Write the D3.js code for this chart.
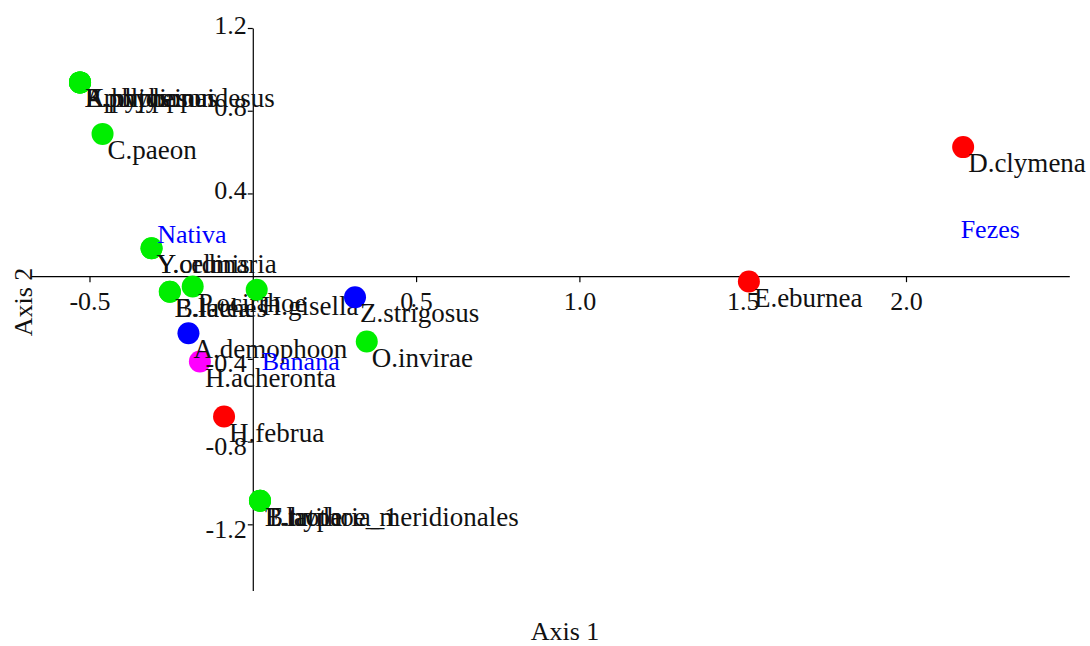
<!DOCTYPE html>
<html>
<head>
<meta charset="utf-8">
<script src="https://cdn.jsdelivr.net/npm/d3@7"></script>
<style>
  html, body { margin: 0; padding: 0; background: #fff; }
  svg { display: block; }
</style>
</head>
<body>
<svg id="chart" width="1090" height="646"></svg>
<script>
// Correspondence analysis: butterfly species and bait types (first two axes)
const species = [
  "P.poltys", "A.phidippus", "K.hyppason", "E.phyheinaidesus",
  "C.paeon",
  "Y.celmis", "Y.ordinaria",
  "E.lutea", "B.laches",
  "P.ocirrhoe",
  "H.gisella",
  "Z.strigosus",
  "H.acheronta",
  "A.demophoon",
  "O.invirae",
  "H.februa",
  "T.laothoe_meridionales", "B.hyperia_1", "E.tatila",
  "E.eburnea",
  "D.clymena"
];
const speciesX = [
  -0.529, -0.529, -0.529, -0.529,
  -0.460,
  -0.310, -0.310,
  -0.254, -0.254,
  -0.184,
  0.012,
  0.313,
  -0.162,
  -0.197,
  0.349,
  -0.088,
  0.022, 0.022, 0.022,
  1.519,
  2.175
];
const speciesY = [
  0.937, 0.937, 0.937, 0.937,
  0.688,
  0.135, 0.135,
  -0.075, -0.075,
  -0.050,
  -0.066,
  -0.102,
  -0.413,
  -0.276,
  -0.316,
  -0.679,
  -1.086, -1.086, -1.086,
  -0.026,
  0.624
];
const speciesGroup = [
  "g", "g", "g", "g",
  "g",
  "g", "g",
  "g", "g",
  "g",
  "g",
  "b",
  "m",
  "b",
  "g",
  "r",
  "g", "g", "g",
  "r",
  "r"
];

const baits = ["Nativa", "Banana", "Fezes"];
const baitX = [-0.308, 0.012, 2.152];
const baitY = [0.282, -0.332, 0.306];

const xTicks = [-0.5, 0.5, 1.0, 1.5, 2.0];
const yTicks = [1.2, 0.8, 0.4, -0.4, -0.8, -1.2];

const groupColor = { g: "#00ee00", b: "#0000ff", r: "#ff0000", m: "#ff00ff" };

const svg = d3.select("#chart");
svg.append("rect").attr("width", 1090).attr("height", 646).attr("fill", "#fff");

const x = d3.scaleLinear().domain([-0.68, 2.5]).range([30.7, 1069.3]);
const y = d3.scaleLinear().domain([-1.52, 1.2]).range([590.5, 28]);

const FONT = "'Liberation Serif', 'Times New Roman', serif";
const fmt = d => d.toFixed(1);

const xAxis = d3.axisBottom(x).tickValues(xTicks).tickFormat(fmt)
  .tickSize(6).tickSizeOuter(0).tickPadding(9);
const yAxis = d3.axisLeft(y).tickValues(yTicks).tickFormat(fmt)
  .tickSize(5).tickSizeOuter(0).tickPadding(1);

// axis lines and tick marks (below the points)
const gx = svg.append("g").attr("transform", `translate(0,${y(0)})`).call(xAxis);
const gy = svg.append("g").attr("transform", `translate(${x(0)},0)`).call(yAxis);
[gx, gy].forEach(g => {
  g.selectAll("text").remove();
  g.selectAll("path, line").attr("stroke", "#000").attr("stroke-width", 1.2);
});

// points with their species labels
const pts = svg.append("g");
species.forEach((name, i) => {
  const px = x(speciesX[i]), py = y(speciesY[i]);
  pts.append("circle")
    .attr("cx", px).attr("cy", py).attr("r", 11)
    .attr("fill", groupColor[speciesGroup[i]]);
  pts.append("text")
    .attr("x", px + 5).attr("y", py + 25)
    .attr("font-family", FONT).attr("font-size", 27)
    .attr("fill", "#111")
    .text(name);
});

// bait type labels
svg.append("g").selectAll("text").data(baits).join("text")
  .attr("x", (d, i) => x(baitX[i]) + 5)
  .attr("y", (d, i) => y(baitY[i]) + 25)
  .attr("font-family", FONT).attr("font-size", 26)
  .attr("fill", "#0000ff")
  .text(d => d);

// tick labels on top
const lx = svg.append("g").attr("transform", `translate(0,${y(0)})`).call(xAxis);
const ly = svg.append("g").attr("transform", `translate(${x(0)},0)`).call(yAxis);
[lx, ly].forEach(g => {
  g.select(".domain").remove();
  g.selectAll("line").remove();
  g.selectAll("text").attr("font-family", FONT).attr("font-size", 26).attr("fill", "#111");
});
ly.selectAll("text").attr("dy", d => d > 0 ? "0.2em" : "0.5em");

// axis titles
svg.append("text")
  .attr("x", 565).attr("y", 640)
  .attr("text-anchor", "middle")
  .attr("font-family", FONT).attr("font-size", 26).attr("fill", "#111")
  .text("Axis 1");
svg.append("text")
  .attr("transform", "translate(32,302) rotate(-90)")
  .attr("text-anchor", "middle")
  .attr("font-family", FONT).attr("font-size", 26).attr("fill", "#111")
  .text("Axis 2");
</script>
</body>
</html>
